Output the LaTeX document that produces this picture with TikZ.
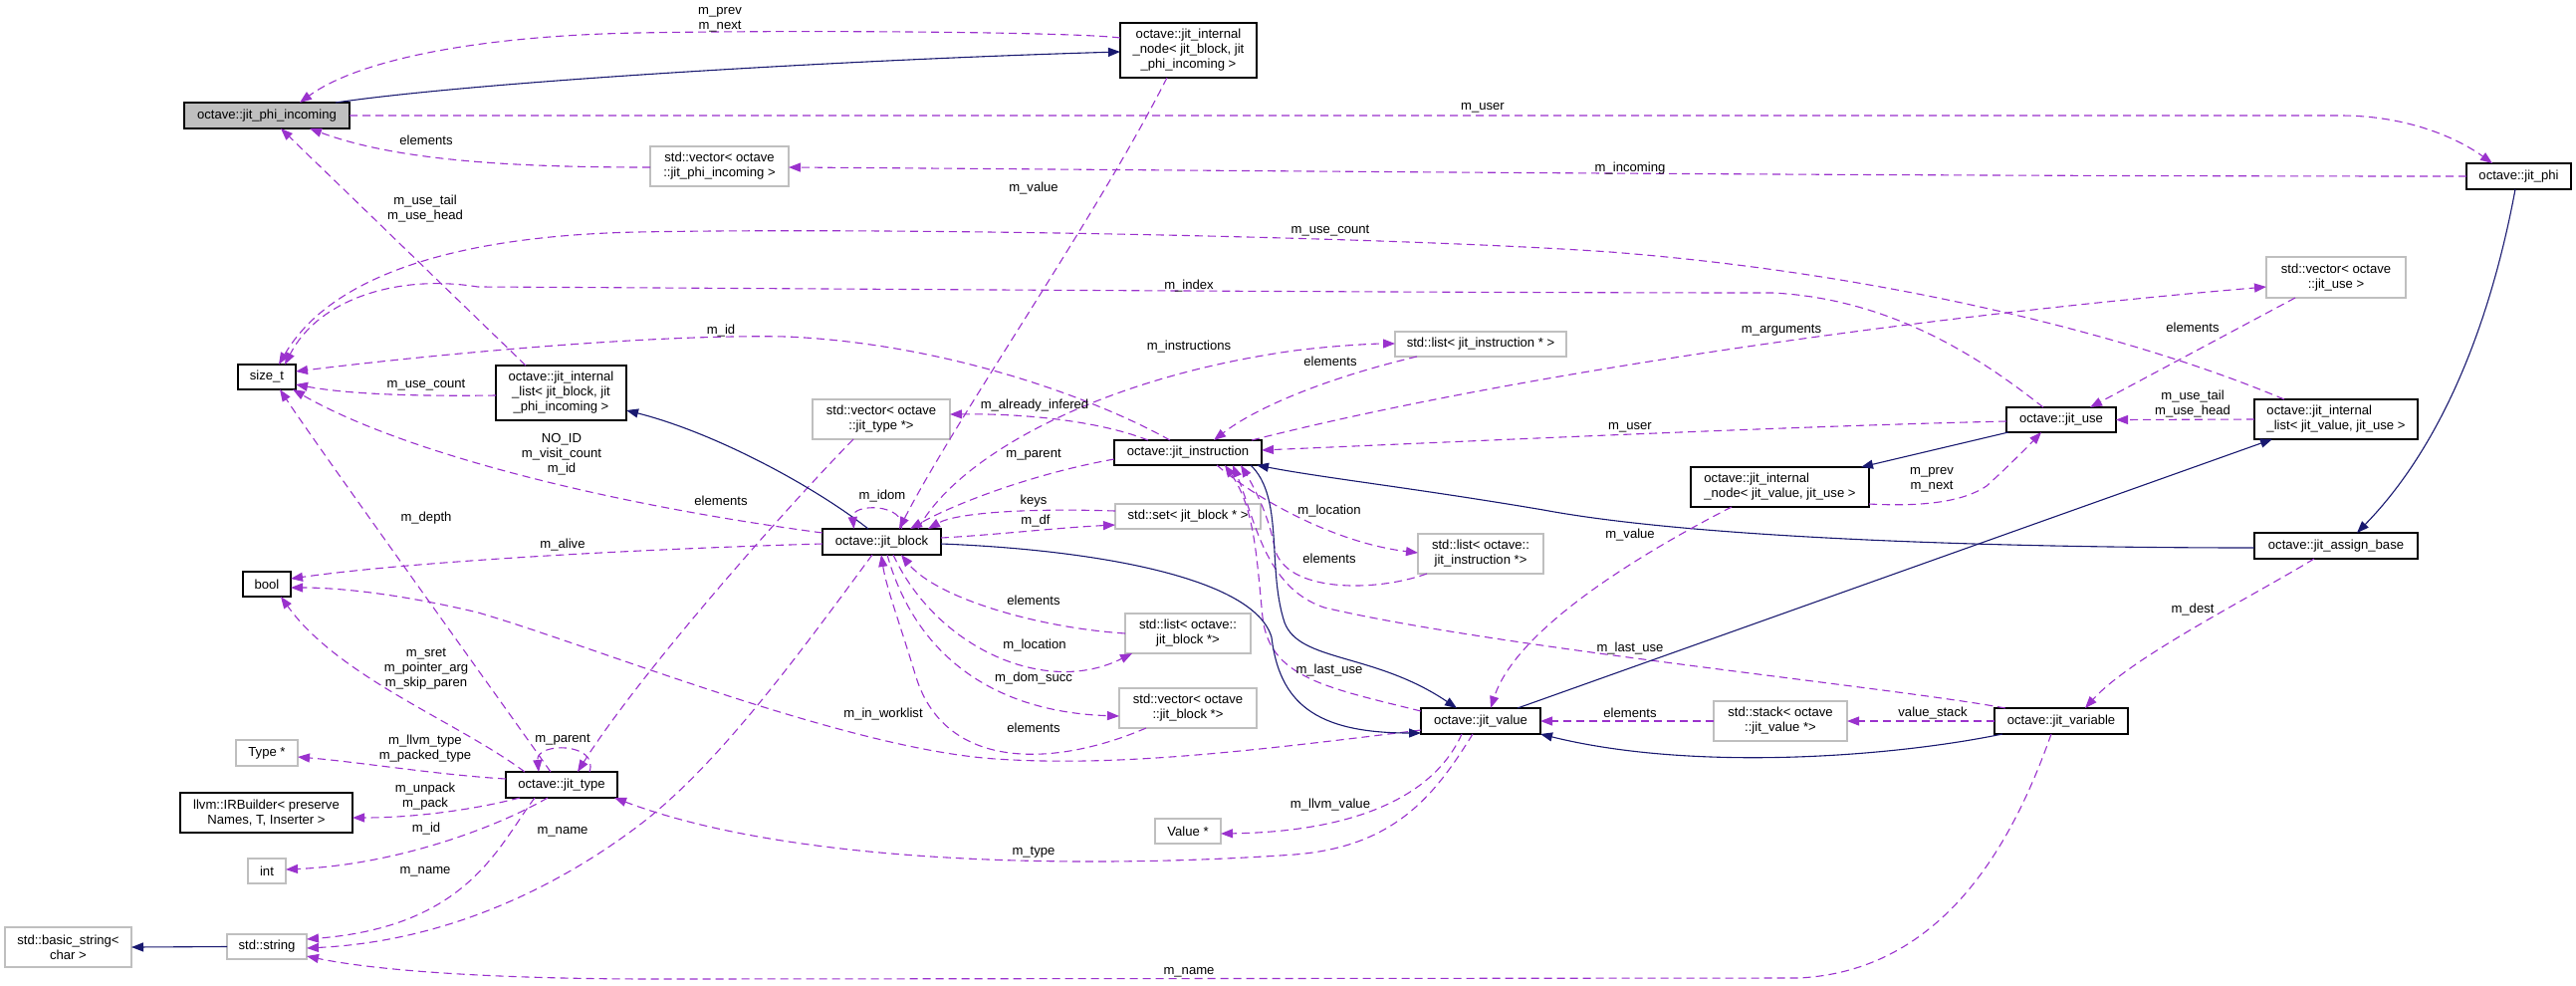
\documentclass[tikz,border=0pt]{standalone}
\usepackage{fontspec}
\setmainfont{Liberation Sans}
\usetikzlibrary{arrows.meta}
\definecolor{depc}{HTML}{9A32CD}
\definecolor{inhc}{HTML}{191970}
\definecolor{gbox}{HTML}{BFBFBF}
\begin{document}
\begin{tikzpicture}[x=1pt,y=-1pt,
  every node/.style={font=\fontsize{13.1}{15}\selectfont, inner sep=0pt, outer sep=0pt},
  cls/.style={draw=black, line width=1.1pt, align=center},
  ext/.style={draw=gbox, line width=1.1pt, align=center},
  lbl/.style={align=center},
  dep/.style={draw=depc, dash pattern=on 8pt off 5pt, line width=1.1pt, -{Triangle[length=12pt,width=9pt]}},
  inh/.style={draw=inhc, line width=1.1pt, -{Triangle[length=12pt,width=9pt]}}]
\useasboundingbox (0,0) rectangle (2587,989);
\fill[white] (0,0) rectangle (2587,989);

% classes
\node[cls, fill=gbox, minimum width=166pt, minimum height=26pt] (phiin) at (268,116) {octave::jit\_phi\_incoming};
\node[cls, minimum width=137pt, minimum height=55pt] (inodeB) at (1193.5,50.5) {octave::jit\_internal\\\_node< jit\_block, jit\\\_phi\_incoming >};
\node[ext, minimum width=139pt, minimum height=40pt] (vecphi) at (722.5,167) {std::vector< octave\\::jit\_phi\_incoming >};
\node[cls, minimum width=105pt, minimum height=26pt] (phi) at (2529.5,177) {octave::jit\_phi};
\node[cls, minimum width=58pt, minimum height=25pt] (sizet) at (268,378.5) {size\_t};
\node[cls, minimum width=131pt, minimum height=55pt] (ilistB) at (563.5,394.5) {octave::jit\_internal\\\_list< jit\_block, jit\\\_phi\_incoming >};
\node[ext, minimum width=138pt, minimum height=40pt] (vectype) at (885,421) {std::vector< octave\\::jit\_type *>};
\node[cls, minimum width=148pt, minimum height=25pt] (instr) at (1193,454.5) {octave::jit\_instruction};
\node[ext, minimum width=172pt, minimum height=25pt] (listinstr) at (1487,345.5) {std::list< jit\_instruction * >};
\node[ext, minimum width=140pt, minimum height=41pt] (vecuse) at (2346,278.5) {std::vector< octave\\::jit\_use >};
\node[cls, minimum width=110pt, minimum height=25pt] (use) at (2070,421.5) {octave::jit\_use};
\node[cls, align=left, minimum width=164pt, minimum height=40pt] (ilistV) at (2346,421) {octave::jit\_internal\\\_list< jit\_value, jit\_use >};
\node[cls, align=left, minimum width=179pt, minimum height=40pt] (inodeV) at (1787.5,489) {octave::jit\_internal\\\_node< jit\_value, jit\_use >};
\node[cls, minimum width=48pt, minimum height=25pt] (bool) at (268,586.5) {bool};
\node[cls, minimum width=119pt, minimum height=26pt] (block) at (885.5,544) {octave::jit\_block};
\node[ext, minimum width=146pt, minimum height=25pt] (set) at (1193,518.5) {std::set< jit\_block * >};
\node[ext, minimum width=126pt, minimum height=40pt] (listblock) at (1193,636) {std::list< octave::\\jit\_block *>};
\node[ext, minimum width=138pt, minimum height=40pt] (vecblock) at (1193,711) {std::vector< octave\\::jit\_block *>};
\node[ext, minimum width=126pt, minimum height=40pt] (listinstr2) at (1487,556) {std::list< octave::\\jit\_instruction *>};
\node[cls, minimum width=164pt, minimum height=26pt] (assign) at (2346,548) {octave::jit\_assign\_base};
\node[cls, minimum width=120pt, minimum height=26pt] (value) at (1487,724) {octave::jit\_value};
\node[ext, minimum width=134pt, minimum height=40pt] (stack) at (1788,724) {std::stack< octave\\::jit\_value *>};
\node[cls, minimum width=134pt, minimum height=26pt] (variable) at (2070,724) {octave::jit\_variable};
\node[ext, minimum width=62pt, minimum height=26pt] (typeptr) at (268,756) {Type *};
\node[cls, minimum width=112pt, minimum height=26pt] (jtype) at (564,788) {octave::jit\_type};
\node[cls, minimum width=173pt, minimum height=40pt] (irb) at (267.5,816) {llvm::IRBuilder< preserve\\Names, T, Inserter >};
\node[ext, minimum width=38pt, minimum height=25pt] (int) at (268,874.5) {int};
\node[ext, minimum width=66pt, minimum height=25pt] (valueptr) at (1193,834.5) {Value *};
\node[ext, minimum width=127pt, minimum height=40pt] (basic) at (68.5,951) {std::basic\_string<\\char >};
\node[ext, minimum width=80pt, minimum height=25pt] (string) at (268,950.5) {std::string};

% edges
\draw[dep] ([yshift=12.5pt]inodeB.west) .. controls (1080,32) and (800,30) .. (640,33) .. controls (480,36) and (360,60) .. ([xshift=33pt]phiin.north);
\draw[inh] ([xshift=69pt]phiin.north) .. controls (480,82) and (850,60) .. ([yshift=-1.5pt]inodeB.west);
\draw[dep] (phiin.east) -- (2350,116) .. controls (2420,116) and (2470,140) .. ([xshift=-26.5pt]phi.north);
\draw[dep] (phi.west) .. controls (1800,177) and (1100,170) .. ([yshift=-1pt]vecphi.east);
\draw[dep] ([yshift=-1pt]vecphi.west) .. controls (520,168) and (400,162) .. ([xshift=43pt]phiin.south);
\draw[dep] ([xshift=-35.5pt]ilistB.north) -- ([xshift=14pt]phiin.south);
\draw[dep] ([yshift=-2.5pt]ilistB.west) .. controls (420,398) and (350,396) .. ([yshift=-7.5pt]sizet.east);
\draw[dep] ([yshift=9pt]block.west) .. controls (600,505) and (400,452) .. ([xshift=-3pt]sizet.south east);
\draw[dep] ([xshift=-11pt]jtype.north) .. controls (500,700) and (320,450) .. ([xshift=13pt]sizet.south);
\draw[dep] ([yshift=-2pt]block.west) .. controls (650,551) and (420,563) .. ([yshift=5.5pt]bool.east);
\draw[dep] ([yshift=-9pt]value.west) .. controls (1250,755) and (1120,770) .. (1000,762) .. controls (850,752) and (600,650) .. (480,615) .. controls (400,596) and (340,590) .. ([yshift=-3.5pt]bool.east);
\draw[dep] ([xshift=-37pt]jtype.north) .. controls (460,725) and (340,680) .. ([xshift=14pt]bool.south);
\draw[dep] ([yshift=6pt]jtype.west) .. controls (440,778) and (360,765) .. ([yshift=-4pt]typeptr.east);
\draw[dep] ([xshift=-42pt]jtype.south) .. controls (480,812) and (420,821) .. ([yshift=-5pt]irb.east);
\draw[dep] ([xshift=-14pt]jtype.south) .. controls (500,830) and (400,868) .. ([yshift=1.5pt]int.east);
\draw[dep] ([xshift=-27pt]jtype.south) .. controls (500,850) and (470,930) .. ([yshift=7.5pt]string.east);
\draw[dep] ([xshift=-9.5pt]block.south) .. controls (800,660) and (720,770) .. (640,830) .. controls (560,890) and (450,945) .. ([yshift=-1.5pt]string.east);
\draw[dep] ([xshift=-10pt]variable.south) .. controls (2020,850) and (1950,975) .. (1806,982) -- (660,983) .. controls (500,983) and (380,975) .. ([yshift=-9.5pt]string.east);
\draw[dep] ([xshift=-8pt]value.south) .. controls (1440,800) and (1400,850) .. (1300,858) .. controls (1100,872) and (800,870) .. ([xshift=53pt]jtype.south);
\draw[dep] ([xshift=-19pt]value.south) .. controls (1440,800) and (1360,835) .. ([yshift=-2.5pt]valueptr.east);
\draw[dep] ([xshift=-28pt]vectype.south) .. controls (780,520) and (640,680) .. ([xshift=16pt]jtype.north);
\draw[dep] ([xshift=28pt]jtype.north) .. controls (602,745) and (538,745) .. ([xshift=-23pt]jtype.north);
\draw[inh] ([xshift=-13.5pt]block.north) .. controls (820,490) and (720,435) .. ([yshift=-17.5pt]ilistB.east);
\draw[dep] ([xshift=20pt]block.north) .. controls (910,505) and (855,505) .. ([xshift=-28pt]block.north);
\draw[dep] ([xshift=-21.5pt]inodeB.south) .. controls (1100,220) and (960,420) .. ([xshift=17.5pt]block.north);
\draw[dep] ([yshift=-6.5pt]instr.west) .. controls (1040,475) and (960,505) .. ([xshift=28.5pt]block.north);
\draw[dep] ([yshift=5.5pt]set.west) .. controls (1030,510) and (960,515) .. ([xshift=46.5pt]block.north);
\draw[dep] ([xshift=36.5pt]block.north) .. controls (960,460) and (1100,380) .. (1300,352) .. controls (1340,347) and (1380,345) .. ([yshift=0.5pt]listinstr.west);
\draw[dep] ([yshift=4pt]block.east) .. controls (1000,537) and (1060,530) .. ([yshift=-8.5pt]set.west);
\draw[dep] (listblock.west) .. controls (1040,630) and (940,600) .. ([xshift=19.5pt]block.south);
\draw[dep] ([xshift=11.5pt]block.south) .. controls (940,650) and (1050,700) .. ([xshift=7pt]listblock.south west);
\draw[dep] ([xshift=5.5pt]block.south) .. controls (920,660) and (1000,715) .. ([yshift=-8pt]vecblock.west);
\draw[dep] ([xshift=27pt]vecblock.south west) .. controls (1060,770) and (950,775) .. (920,680) .. controls (905,630) and (890,590) .. ([xshift=-0.5pt]block.south);
\draw[dep] ([xshift=-40pt]instr.north) .. controls (1110,425) and (1040,415) .. ([yshift=5pt]vectype.east);
\draw[dep] ([xshift=-18pt]instr.north) .. controls (1100,400) and (950,345) .. (790,338) .. controls (640,335) and (400,360) .. ([yshift=5.5pt]sizet.east);
\draw[dep] ([xshift=22pt]listinstr.south west) .. controls (1330,380) and (1260,410) .. ([xshift=26pt]instr.north);
\draw[dep] ([xshift=-10pt]instr.north east) .. controls (1500,380) and (1900,320) .. ([yshift=-9.5pt]vecuse.west);
\draw[dep] ([yshift=-1.5pt]use.west) .. controls (1800,428) and (1500,442) .. ([yshift=2.5pt]instr.east);
\draw[dep] ([xshift=29pt]instr.south) .. controls (1260,500) and (1340,545) .. ([yshift=1pt]listinstr2.west);
\draw[dep] ([xshift=9pt]listinstr2.south west) .. controls (1380,595) and (1290,595) .. (1280,550) .. controls (1275,520) and (1260,490) .. ([xshift=53pt]instr.south);
\draw[dep] ([yshift=10pt]value.west) .. controls (1330,690) and (1275,680) .. (1268,620) .. controls (1262,560) and (1260,510) .. ([xshift=37pt]instr.south);
\draw[dep] ([xshift=11pt]variable.north west) .. controls (1900,690) and (1500,650) .. (1330,610) .. controls (1270,590) and (1260,520) .. ([xshift=45pt]instr.south);
\draw[inh] ([xshift=63pt]instr.south) .. controls (1290,500) and (1272,570) .. (1290,625) .. controls (1305,665) and (1380,655) .. ([xshift=-24pt]value.north);
\draw[inh] ([yshift=-2pt]block.east) .. controls (1100,552) and (1260,580) .. (1277,640) .. controls (1285,705) and (1320,736) .. ([yshift=-12pt]value.west);
\draw[inh] ([xshift=2pt]use.south west) -- ([xshift=-8pt]inodeV.north east);
\draw[inh] ([xshift=37pt]value.north) -- ([xshift=18pt]ilistV.south west);
\draw[inh] ([yshift=-2pt]assign.west) .. controls (2000,550) and (1700,540) .. (1550,512) .. controls (1420,490) and (1330,480) .. ([xshift=-5pt]instr.south east);
\draw[inh] ([xshift=-3.5pt]phi.south) .. controls (2500,330) and (2450,450) .. ([xshift=21pt]assign.north);
\draw[inh] ([xshift=8pt]variable.south west) .. controls (1900,760) and (1700,775) .. (value.south east);
\draw[dep] ([xshift=-22pt]assign.south) .. controls (2260,600) and (2140,660) .. ([xshift=24pt]variable.north);
\draw[dep] (variable.west) -- (stack.east);
\draw[dep] (stack.west) -- (value.east);
\draw[dep] ([xshift=-48.5pt]inodeV.south) .. controls (1620,570) and (1520,640) .. ([xshift=10pt]value.north);
\draw[dep] ([yshift=3pt]inodeV.south east) .. controls (1950,510) and (1980,498) .. (1995,488) .. controls (2015,470) and (2035,450) .. ([xshift=-20pt]use.south);
\draw[dep] ([xshift=-41pt]vecuse.south) -- ([xshift=29pt]use.north);
\draw[dep] (ilistV.west) -- (use.east);
\draw[dep] ([xshift=-52pt]ilistV.north) .. controls (2150,340) and (1900,275) .. (1617,253) .. controls (1400,238) and (900,228) .. (640,233) .. controls (450,237) and (330,280) .. ([xshift=12pt]sizet.north);
\draw[dep] ([xshift=-18pt]use.north) .. controls (1990,360) and (1900,300) .. (1780,294) .. controls (1400,294) and (700,289) .. (480,288) .. controls (400,275) and (320,300) .. ([xshift=18pt]sizet.north);
\draw[inh] (string.west) -- (basic.east);

% labels
\node[lbl] (t1) at (723,19.5) {m\_prev\\m\_next};
\node[lbl] (t2) at (1489,108) {m\_user};
\node[lbl] (t3) at (1637,169) {m\_incoming};
\node[lbl] (t4) at (428,141) {elements};
\node[lbl] (t5) at (427,210) {m\_use\_tail\\m\_use\_head};
\node[lbl] (t6) at (428,387) {m\_use\_count};
\node[lbl] (t7) at (1038,189) {m\_value};
\node[lbl] (t8) at (1336,232) {m\_use\_count};
\node[lbl] (t9) at (1194,287) {m\_index};
\node[lbl] (t10) at (724,332) {m\_id};
\node[lbl] (t11) at (1194,348) {m\_instructions};
\node[lbl] (t12) at (1336,363) {elements};
\node[lbl] (t13) at (1789,332) {m\_arguments};
\node[lbl] (t14) at (2202,329) {elements};
\node[lbl] (t15) at (1039,407) {m\_already\_infered};
\node[lbl] (t16) at (1637,429) {m\_user};
\node[lbl] (t17) at (2202,405.5) {m\_use\_tail\\m\_use\_head};
\node[lbl] (t18) at (564,456) {NO\_ID\\m\_visit\_count\\m\_id};
\node[lbl] (t19) at (1038,457) {m\_parent};
\node[lbl] (t20) at (1940,481.5) {m\_prev\\m\_next};
\node[lbl] (t21) at (886,498) {m\_idom};
\node[lbl] (t22) at (724,503) {elements};
\node[lbl] (t23) at (1038,503) {keys};
\node[lbl] (t24) at (1335,513) {m\_location};
\node[lbl] (t25) at (428,520) {m\_depth};
\node[lbl] (t26) at (1040,523) {m\_df};
\node[lbl] (t27) at (1637,537) {m\_value};
\node[lbl] (t28) at (565,547) {m\_alive};
\node[lbl] (t29) at (1335,561) {elements};
\node[lbl] (t30) at (1038,603) {elements};
\node[lbl] (t31) at (2202,612) {m\_dest};
\node[lbl] (t32) at (1039,648) {m\_location};
\node[lbl] (t33) at (1637,651) {m\_last\_use};
\node[lbl] (t34) at (428,672) {m\_sret\\m\_pointer\_arg\\m\_skip\_paren};
\node[lbl] (t35) at (1335,673) {m\_last\_use};
\node[lbl] (t36) at (1038,681) {m\_dom\_succ};
\node[lbl] (t37) at (1637,716) {elements};
\node[lbl] (t38) at (1941,716) {value\_stack};
\node[lbl] (t39) at (887,717) {m\_in\_worklist};
\node[lbl] (t40) at (1038,731) {elements};
\node[lbl] (t41) at (565,743) {m\_parent};
\node[lbl] (t42) at (427,752) {m\_llvm\_type\\m\_packed\_type};
\node[lbl] (t43) at (427,799.5) {m\_unpack\\m\_pack};
\node[lbl] (t44) at (1336,808) {m\_llvm\_value};
\node[lbl] (t45) at (428,832) {m\_id};
\node[lbl] (t46) at (565,835) {m\_name};
\node[lbl] (t47) at (1038,856) {m\_type};
\node[lbl] (t48) at (427,875) {m\_name};
\node[lbl] (t49) at (1194,976) {m\_name};
\end{tikzpicture}
\end{document}
